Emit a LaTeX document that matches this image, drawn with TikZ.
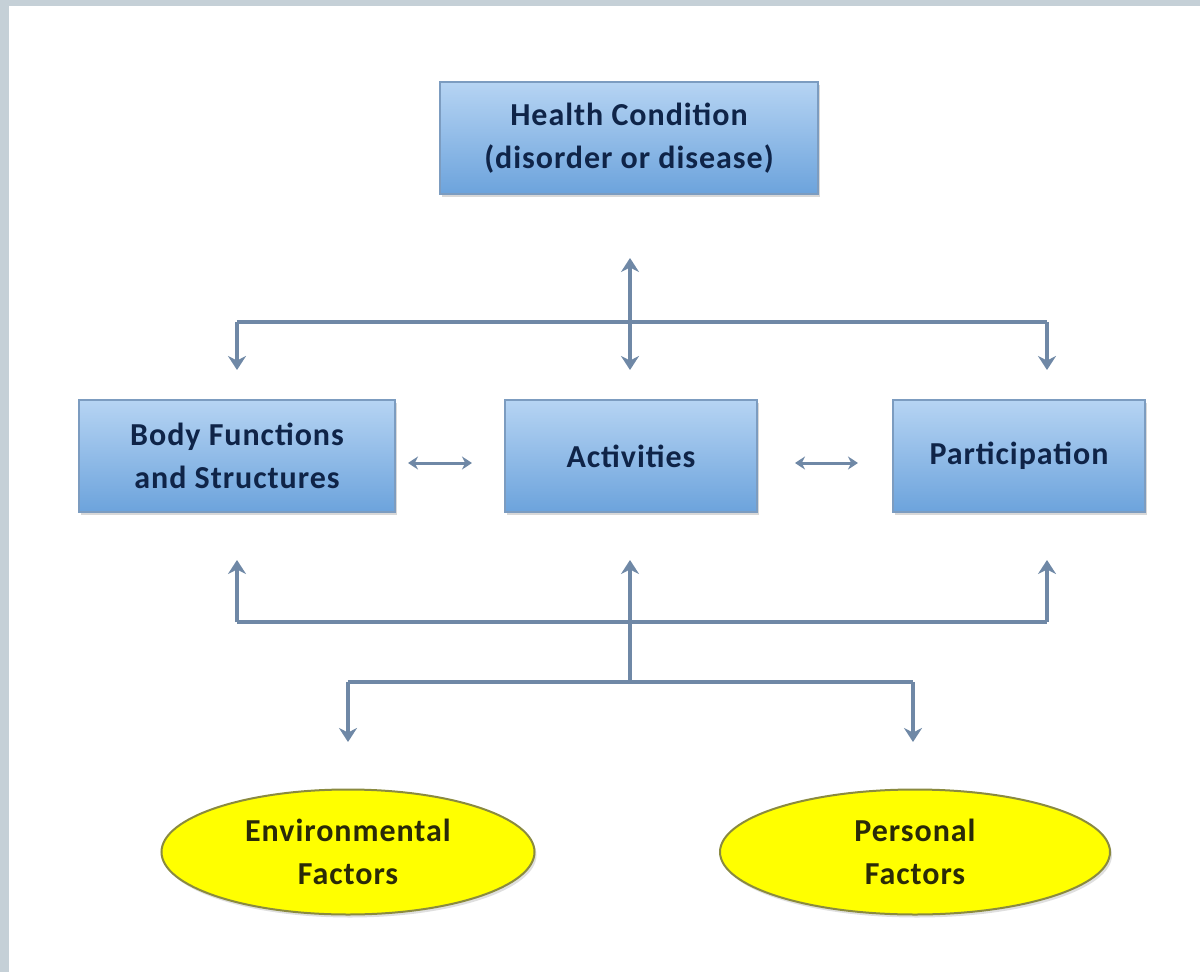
\documentclass[tikz,border=0pt]{standalone}
\usepackage{fontspec}
\setmainfont[LetterSpace=3]{Carlito}
\usetikzlibrary{arrows.meta,shadows,shapes.geometric}
\definecolor{frame}{HTML}{C5D0D7}
\definecolor{conncol}{HTML}{6F88A6}
\definecolor{boxtop}{HTML}{B6D4F3}
\definecolor{boxbot}{HTML}{6CA3DC}
\definecolor{boxedge}{HTML}{7C9CC0}
\definecolor{navy}{HTML}{0F2448}
\definecolor{ellfill}{HTML}{FFFF00}
\definecolor{elledge}{HTML}{8A8A40}
\definecolor{elltext}{HTML}{2A2A08}
\tikzset{
  bluebox/.style={rectangle, minimum height=112pt, top color=boxtop, bottom color=boxbot,
    draw=boxedge, line width=1.5pt, align=center, text=navy,
    font=\fontsize{32}{43}\selectfont\bfseries,
    drop shadow={shadow xshift=2pt, shadow yshift=-3pt, opacity=0.3}},
  yellell/.style={ellipse, minimum height=125pt, fill=ellfill, draw=elledge, line width=2pt,
    align=center, text=elltext, inner sep=0pt,
    font=\fontsize{32}{43}\selectfont\bfseries,
    drop shadow={shadow xshift=2pt, shadow yshift=-3pt, opacity=0.25}},
  conn/.style={draw=conncol, line width=4pt},
  tip/.style={-{Stealth[length=14pt,width=18pt]}},
  dtip/.style={{Stealth[length=14pt,width=18pt]}-{Stealth[length=14pt,width=18pt]}},
  small/.style={draw=conncol, line width=3pt, {Stealth[length=10pt,width=13pt]}-{Stealth[length=10pt,width=13pt]}}
}
\begin{document}
\begin{tikzpicture}[x=1pt,y=-1pt]
\useasboundingbox (0,0) rectangle (1200,972);
\fill[frame] (0,0) rectangle (1200,972);
\fill[white] (9,6) rectangle (1200,972);

\node[bluebox, minimum width=378pt] (HC) at (629,138) {Health Condition\\(disorder or disease)};
\node[bluebox, minimum width=316pt] (BF) at (237,456) {Body Functions\\and Structures};
\node[bluebox, minimum width=252pt] (ACT) at (631,456) {Activities};
\node[bluebox, minimum width=252pt] (PART) at (1019,456) {Participation};
\node[yellell, minimum width=373pt] (ENV) at (348,852) {Environmental\\Factors};
\node[yellell, minimum width=390pt] (PERS) at (915,852) {Personal\\Factors};

% top distribution
\coordinate (hcA) at (630,258);
\coordinate (actIn) at (630,370);
\coordinate (topL) at (237,322);
\coordinate (topR) at (1047,322);
\coordinate (bfIn) at (237,370);
\coordinate (partIn) at (1047,370);
\draw[conn] (topL) -- (topR);
\draw[conn, dtip] (hcA) -- (actIn);
\draw[conn, tip] (topL) -- (bfIn);
\draw[conn, tip] (topR) -- (partIn);

% side arrows
\coordinate (s1a) at (408,463);
\coordinate (s1b) at (472,463);
\coordinate (s2a) at (795,463);
\coordinate (s2b) at (858,463);
\draw[small] (s1a) -- (s1b);
\draw[small] (s2a) -- (s2b);

% bottom
\coordinate (botL) at (237,622);
\coordinate (botR) at (1047,622);
\coordinate (midJ) at (630,682);
\coordinate (envL) at (348,682);
\coordinate (envR) at (913,682);
\coordinate (bfOut) at (237,560);
\coordinate (actOut) at (630,560);
\coordinate (partOut) at (1047,560);
\coordinate (envIn) at (348,742);
\coordinate (persIn) at (913,742);
\draw[conn] (botL) -- (botR);
\draw[conn] (envL) -- (envR);
\draw[conn, tip] (botL) -- (bfOut);
\draw[conn, tip] (botR) -- (partOut);
\draw[conn, tip] (midJ) -- (actOut);
\draw[conn, tip] (envL) -- (envIn);
\draw[conn, tip] (envR) -- (persIn);
\end{tikzpicture}
\end{document}
